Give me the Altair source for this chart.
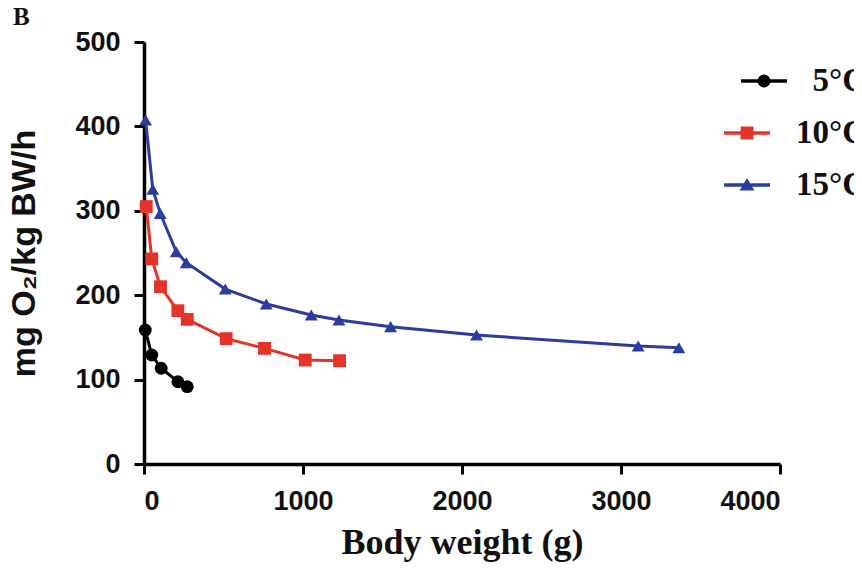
import math
import altair as alt
import pandas as pd

# ---- data ----
series = ["5°C", "10°C", "15°C"]
w_5 = [8, 49, 108, 213, 272]
o2_5 = [158.8, 129.1, 113.4, 97.5, 91.6]
w_10 = [14, 49, 104, 213, 272, 517, 758, 1014, 1230]
o2_10 = [305, 243, 210, 181.6, 171.4, 148.5, 137, 123.2, 122.4]
w_15 = [10, 55, 102, 203, 266, 511, 769, 1052, 1226, 1551, 2091, 3108, 3364]
o2_15 = [407.6, 325.5, 297, 251.5, 238.5, 207.3, 189.6, 176.5, 170.6, 162.7, 152.8, 139.8, 137.8]
x_ticks = [0, 1000, 2000, 3000, 4000]
y_ticks = [0, 100, 200, 300, 400, 500]

colors = ["#000000", "#e3342b", "#2c3b9f"]
shapes = ["circle", "square", "triangle-up"]

rows = []
for name, ws, os_ in zip(series, [w_5, w_10, w_15], [o2_5, o2_10, o2_15]):
    for w, o in zip(ws, os_):
        rows.append({"temp": name, "weight": w, "o2": o})
df = pd.DataFrame(rows)

# ---- legend glyphs: line with marker (unit = half symbol width) ----
T = 0.072


def bar(cx):
    return f"M{cx-1:.3f},{-T}H{cx+1:.3f}V{T}H{cx-1:.3f}Z"


def circle(cx, r=0.28, n=24):
    pts = [(cx + r * math.cos(2 * math.pi * i / n), r * math.sin(2 * math.pi * i / n)) for i in range(n)]
    return "M" + "L".join(f"{x:.3f},{y:.3f}" for x, y in pts) + "Z"


shift5 = 0.74
leg_shapes = [
    bar(shift5) + " " + circle(shift5),
    bar(0) + " M-0.28,-0.28H0.28V0.28H-0.28Z",
    bar(0) + " M0,-0.30L0.32,0.24L-0.32,0.24Z",
]

x_enc = alt.X("weight:Q", title="Body weight (g)",
              scale=alt.Scale(domain=[0, 4000], nice=False),
              axis=alt.Axis(values=x_ticks, format="d", grid=False,
                            domainColor="#000", domainWidth=3.5, tickColor="#000", tickWidth=3, tickSize=10,
                            labelFont="Liberation Sans", labelFontSize=27, labelFontWeight="bold",
                            labelPadding=14, labelColor="#111",
                            titleFont="Liberation Serif", titleFontSize=36, titleFontWeight="bold",
                            titleBaseline="alphabetic", titleY=89, titleColor="#111"))
y_enc = alt.Y("o2:Q", title="mg O₂/kg BW/h",
              scale=alt.Scale(domain=[0, 500], nice=False),
              axis=alt.Axis(values=y_ticks, format="d", grid=False,
                            domainColor="#000", domainWidth=3.5, tickColor="#000", tickWidth=3, tickSize=10,
                            labelFont="Liberation Sans", labelFontSize=27, labelFontWeight="bold",
                            labelPadding=14, labelColor="#111",
                            titleFont="Liberation Sans", titleFontSize=34, titleFontWeight="bold",
                            titleBaseline="alphabetic", titleX=-110, titleY=211, titleColor="#111"))

col_main = alt.Color("temp:N", scale=alt.Scale(domain=series, range=colors), legend=None)
lines = alt.Chart(df).mark_line(strokeWidth=3).encode(x=x_enc, y=y_enc, color=col_main,
                                                        detail="temp:N")
points = alt.Chart(df).mark_point(filled=True, opacity=1, size=165).encode(
    x=x_enc, y=y_enc, color=col_main,
    shape=alt.Shape("temp:N", scale=alt.Scale(domain=series, range=shapes), legend=None))
main = alt.layer(lines, points)

# labels right-aligned at the end of the widest label ("10°C" ~ 70px)
leg = alt.Legend(title=None, orient="none", legendX=580, legendY=16,
                 symbolSize=2116, symbolStrokeWidth=0, padding=0,
                 rowPadding=12, labelOffset=96, labelAlign="right",
                 labelFont="Liberation Serif", labelFontSize=33,
                 labelFontWeight="bold", labelColor="#111", labelLimit=300)

legend_layer = alt.Chart(df).transform_filter("false").mark_point(filled=True, opacity=1).encode(
    x=x_enc, y=y_enc,
    color=alt.Color("temp:N", scale=alt.Scale(domain=series, range=colors), legend=leg),
    shape=alt.Shape("temp:N", scale=alt.Scale(domain=series, range=leg_shapes), legend=leg),
)

chart = alt.layer(main, legend_layer).resolve_scale(color="independent", shape="independent").properties(
    width=636, height=422,
    autosize=alt.AutoSizeParams(type="none"),
    padding={"left": 136, "top": 34, "right": 74, "bottom": 98},
    background="white",
    title=alt.TitleParams("B", anchor="start", frame="group", orient="top", font="Liberation Serif",
                          fontSize=25, fontWeight="bold", dx=-131, dy=24, offset=2,
                          baseline="alphabetic", color="#111"),
).configure_view(strokeWidth=0)

chart.save("out.html", embed_options={"renderer": "svg", "actions": False})
